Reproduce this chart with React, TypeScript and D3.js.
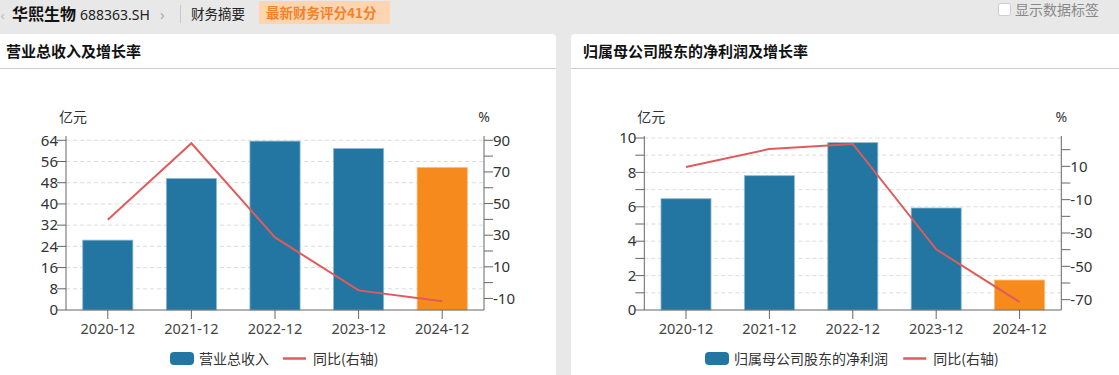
import React from "react";
import * as d3 from "d3";

const categories = ["2020-12", "2021-12", "2022-12", "2023-12", "2024-12"];
const revenue = [26.35, 49.6, 63.7, 60.9, 53.7];
const revenueYoY = [39.7, 88.1, 28.6, -4.9, -11.8];
const netProfit = [6.47, 7.81, 9.73, 5.93, 1.74];
const netProfitYoY = [9.6, 20.4, 23.4, -39.8, -71.4];

const revLeftTicks = [0, 8, 16, 24, 32, 40, 48, 56, 64];
const revRightTicks = [-10, 0, 10, 20, 30, 40, 50, 60, 70, 80, 90];
const revRightLabels = [90, 70, 50, 30, 10, -10];
const npLeftTicks = [0, 1, 2, 3, 4, 5, 6, 7, 8, 9, 10];
const npLeftLabels = [0, 2, 4, 6, 8, 10];
const npRightTicks = [-70, -60, -50, -40, -30, -20, -10, 0, 10, 20];
const npRightLabels = [10, -10, -30, -50, -70];

const BLUE = "#2276a1";
const ORANGE = "#f68a1c";
const RED = "#e05b5b";
const FONT = "'Noto Sans CJK SC', 'Noto Sans', sans-serif";
const NUMFONT = "'Noto Sans', 'Open Sans', sans-serif";

type ChartProps = {
  title: string;
  panelX: number;
  panelW: number;
  left: number;
  right: number;
  bars: number[];
  line: number[];
  leftDomain: [number, number];
  leftTop: number;
  leftTicks: number[];
  leftLabels: number[];
  rightDomain: [number, number];
  rightTicks: number[];
  rightLabels: number[];
  legendName: string;
  legendX: number;
};

function Chart(p: ChartProps) {
  const bottom = 310;
  const x = d3.scaleBand<string>().domain(categories).range([p.left, p.right]).padding(0);
  const yL = d3.scaleLinear().domain(p.leftDomain).range([bottom, p.leftTop]);
  const yR = d3.scaleLinear().domain(p.rightDomain).range([bottom, 136]);
  const bw = x.bandwidth() * 0.6;
  const cx = (c: string) => (x(c) as number) + x.bandwidth() / 2;
  const lineGen = d3
    .line<number>()
    .x((_, i) => cx(categories[i]))
    .y((d) => yR(d));
  const axisTop = 136;
  const legendTextW = p.legendName.length * 14.2;
  return (
    <g>
      <path
        d={`M${p.panelX},375 L${p.panelX},${34 + 4} Q${p.panelX},34 ${p.panelX + 4},34 L${p.panelX + p.panelW - 4},34 Q${p.panelX + p.panelW},34 ${p.panelX + p.panelW},38 L${p.panelX + p.panelW},375 Z`}
        fill="#fff"
      />
      <text x={p.panelX + 12} y={57} fontFamily={FONT} fontSize={15} fontWeight="bold" fill="#111">
        {p.title}
      </text>
      <line x1={p.panelX} x2={p.panelX + p.panelW} y1={68.5} y2={68.5} stroke="#cfcfcf" />
      {p.leftTicks.map((t) => (
        <line
          key={"g" + t}
          x1={p.left}
          x2={p.right}
          y1={yL(t)}
          y2={yL(t)}
          stroke="#dcdcdc"
          strokeDasharray="4,3"
          opacity={t === 0 ? 0 : 1}
        />
      ))}
      {p.bars.map((v, i) => (
        <rect
          key={"b" + i}
          x={cx(categories[i]) - bw / 2}
          y={yL(v)}
          width={bw}
          height={bottom - yL(v)}
          fill={i === p.bars.length - 1 ? ORANGE : BLUE}
          stroke={i === p.bars.length - 1 ? "#f9b87a" : "#8fbad3"}
          strokeWidth={0.8}
        />
      ))}
      <path d={lineGen(p.line) || ""} fill="none" stroke={RED} strokeWidth={2} />
      <line x1={p.left} x2={p.left} y1={axisTop} y2={bottom} stroke="#666" />
      {p.leftTicks.map((t) => (
        <line key={"lt" + t} x1={p.left - 9} x2={p.left} y1={yL(t)} y2={yL(t)} stroke="#666" />
      ))}
      {p.leftLabels.map((t) => (
        <text
          key={"ll" + t}
          x={p.left - 8}
          y={yL(t)}
          dy="0.35em"
          textAnchor="end"
          fontFamily={NUMFONT}
          fontSize={15}
          fill="#333"
        >
          {t}
        </text>
      ))}
      <text x={p.left + 7} y={122} textAnchor="middle" fontFamily={FONT} fontSize={14} fill="#333">
        亿元
      </text>
      <line x1={p.right} x2={p.right} y1={axisTop} y2={bottom} stroke="#666" />
      {p.rightTicks.map((t) => (
        <line key={"rt" + t} x1={p.right} x2={p.right + 9} y1={yR(t)} y2={yR(t)} stroke="#666" />
      ))}
      {p.rightLabels.map((t) => (
        <text
          key={"rl" + t}
          x={p.right + 9}
          y={yR(t)}
          dy="0.35em"
          textAnchor="start"
          fontFamily={NUMFONT}
          fontSize={15}
          fill="#333"
        >
          {t}
        </text>
      ))}
      <text x={p.right} y={122} textAnchor="middle" fontFamily={NUMFONT} fontSize={14} fill="#333">
        %
      </text>
      <line x1={p.left} x2={p.right} y1={bottom} y2={bottom} stroke="#666" />
      {categories.map((c) => (
        <g key={"x" + c}>
          <line x1={cx(c)} x2={cx(c)} y1={bottom} y2={bottom + 9} stroke="#666" />
          <text
            x={cx(c)}
            y={bottom + 24}
            textAnchor="middle"
            fontFamily={NUMFONT}
            fontSize={14.5}
            fill="#444"
          >
            {c}
          </text>
        </g>
      ))}
      <rect x={p.legendX} y={352} width={24} height={13} rx={4} fill={BLUE} />
      <text x={p.legendX + 29} y={364} fontFamily={FONT} fontSize={14} fill="#333">
        {p.legendName}
      </text>
      <line
        x1={p.legendX + 29 + legendTextW + 13}
        x2={p.legendX + 29 + legendTextW + 36}
        y1={358.5}
        y2={358.5}
        stroke={RED}
        strokeWidth={2.5}
      />
      <text x={p.legendX + 29 + legendTextW + 43} y={364} fontFamily={FONT} fontSize={14} fill="#333">
        同比(右轴)
      </text>
    </g>
  );
}

export default function App() {
  return (
    <div style={{ position: "absolute", left: 0, top: 0 }}>
      <svg width={1119} height={375} style={{ display: "block" }}>
        <rect x={0} y={0} width={1119} height={375} fill="#e8e8e8" />
        <text x={0.5} y={20} fontFamily={NUMFONT} fontSize={13} fill="#bbb">
          ‹
        </text>
        <text x={12} y={20} fontFamily={FONT} fontSize={16} fontWeight="bold" fill="#111">
          华熙生物
        </text>
        <text x={80} y={20} fontFamily={NUMFONT} fontSize={14} fill="#222">
          688363.SH
        </text>
        <text x={160} y={20} fontFamily={NUMFONT} fontSize={15} fill="#aaa">
          ›
        </text>
        <line x1={180.5} x2={180.5} y1={5} y2={23} stroke="#c8c8c8" />
        <text x={191} y={19} fontFamily={FONT} fontSize={13.5} fill="#222">
          财务摘要
        </text>
        <rect x={259} y={1} width={131} height={23} fill="#fdd5b1" />
        <text x={266} y={18} fontFamily={FONT} fontSize={13.5} fontWeight="bold" fill="#f5822a">
          最新财务评分41分
        </text>
        <rect x={998.5} y={3.5} width={12} height={12} rx={2} fill="#fff" stroke="#ccc" />
        <text x={1015} y={15} fontFamily={FONT} fontSize={14} fill="#888">
          显示数据标签
        </text>
        <Chart
          title="营业总收入及增长率"
          panelX={-6}
          panelW={562}
          left={66}
          right={484}
          bars={revenue}
          line={revenueYoY}
          leftDomain={[0, 64]}
          leftTop={140.3}
          leftTicks={revLeftTicks}
          leftLabels={revLeftTicks}
          rightDomain={[-17.3, 90.0 + (140.3 - 136) / 1.585]}
          rightTicks={revRightTicks}
          rightLabels={revRightLabels}
          legendName="营业总收入"
          legendX={170}
        />
        <Chart
          title="归属母公司股东的净利润及增长率"
          panelX={571}
          panelW={560}
          left={644.3}
          right={1061.3}
          bars={netProfit}
          line={netProfitYoY}
          leftDomain={[0, 10]}
          leftTop={138}
          leftTicks={npLeftTicks}
          leftLabels={npLeftLabels}
          rightDomain={[-76.2, 28.2]}
          rightTicks={npRightTicks}
          rightLabels={npRightLabels}
          legendName="归属母公司股东的净利润"
          legendX={705}
        />
      </svg>
    </div>
  );
}
